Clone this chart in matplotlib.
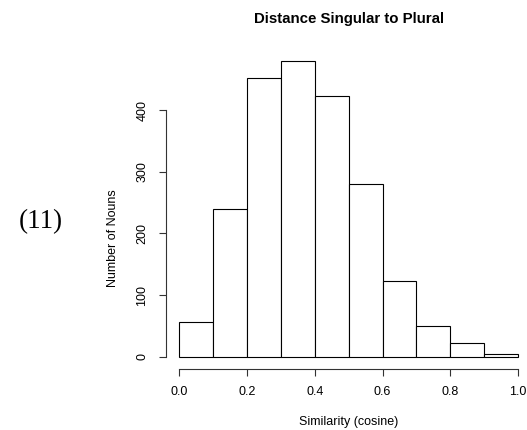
import matplotlib
matplotlib.use("Agg")
import matplotlib.pyplot as plt

bin_edges = [0.0, 0.1, 0.2, 0.3, 0.4, 0.5, 0.6, 0.7, 0.8, 0.9, 1.0]
counts = [56, 239, 452, 480, 423, 281, 123, 50, 22, 5]
x_ticks = [0.0, 0.2, 0.4, 0.6, 0.8, 1.0]
x_tick_labels = ["0.0", "0.2", "0.4", "0.6", "0.8", "1.0"]
y_ticks = [0, 100, 200, 300, 400]
title = "Distance Singular to Plural"
xlabel = "Similarity (cosine)"
ylabel = "Number of Nouns"
side_label = "(11)"

plt.rcParams['font.family'] = ['Liberation Sans', 'DejaVu Sans']

W, H = 527, 430
fig = plt.figure(figsize=(W / 100, H / 100), dpi=100)
left, right, top, bottom = 165.7, 531.7, 49.2, 368.5
ax = fig.add_axes([left / W, 1 - bottom / H, (right - left) / W, (bottom - top) / H])

lefts = bin_edges[:-1]
widths = [b - a for a, b in zip(bin_edges[:-1], bin_edges[1:])]
ax.bar(lefts, counts, width=widths, align='edge', facecolor='white',
       edgecolor='black', linewidth=0.8)

ax.set_xlim(-0.04, 1.04)
ax.set_ylim(-0.04 * max(counts), 1.04 * max(counts))

for s in ['top', 'right']:
    ax.spines[s].set_visible(False)
ax.spines['left'].set_bounds(0, 400)
ax.spines['bottom'].set_bounds(0, 1.0)
for s in ['left', 'bottom']:
    ax.spines[s].set_linewidth(0.8)
    ax.spines[s].set_color('#333333')

ax.set_xticks(x_ticks)
ax.set_xticklabels(x_tick_labels)
ax.set_yticks(y_ticks)
ax.set_yticklabels([str(v) for v in y_ticks], rotation=90, va='center')
ax.tick_params(axis='both', length=5, width=0.8, labelsize=9, color='#333333')
ax.tick_params(axis='x', pad=7.5)
ax.tick_params(axis='y', pad=7.5)

fig.text(348.7 / W, 1 - 19.5 / H, title, ha='center', va='center',
         fontsize=10.8, fontweight='bold')
fig.text(348.7 / W, 1 - 422 / H, xlabel, ha='center', va='center', fontsize=9)
fig.text(113 / W, 1 - 238 / H, ylabel, ha='center', va='center', fontsize=9,
         rotation=90)
fig.text(40.5 / W, 1 - 222 / H, side_label, ha='center', va='center', fontsize=19.5,
         family=['Liberation Serif', 'DejaVu Serif'])

fig.savefig("out.png", dpi=100)
